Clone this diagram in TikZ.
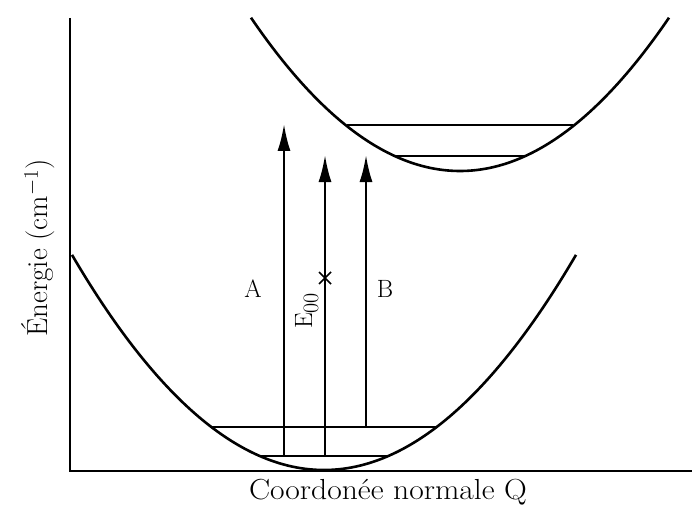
\documentclass[tikz,border=0pt]{standalone}
\usepackage{fontspec}
\setmainfont{Latin Modern Roman}
\usetikzlibrary{arrows.meta,calc}
\begin{document}
\begin{tikzpicture}[x=1pt,y=-1pt,
  curve/.style={line width=2.6pt},
  level/.style={line width=2.2pt},
  axis/.style={line width=2pt},
  trans/.style={line width=2.2pt,-{Latex[length=27pt,width=13pt]}},
  lbl/.style={font=\fontsize{25}{27}\selectfont, inner sep=0pt},
  big/.style={font=\fontsize{29}{31}\selectfont, inner sep=0pt}]
\useasboundingbox (0,0) rectangle (692,505);
% axes
\coordinate (o) at (70,471);
\coordinate (ytop) at (70,18);
\coordinate (xend) at (692,471);
\draw[axis] (ytop) -- (o) -- (xend);
% lower parabola
\draw[curve] plot[domain=72:576,samples=120] (\x,{470-0.003386*(\x-324)*(\x-324)});
% upper parabola
\draw[curve] plot[domain=251:669,samples=120] (\x,{171-0.003503*(\x-460)*(\x-460)});
% levels lower
\coordinate (l1a) at (211,427); \coordinate (l1b) at (437,427);
\coordinate (l0a) at (260,456); \coordinate (l0b) at (388,456);
\draw[level] (l1a) -- (l1b);
\draw[level] (l0a) -- (l0b);
% levels upper
\coordinate (u1a) at (347,125); \coordinate (u1b) at (573,125);
\coordinate (u0a) at (395,156); \coordinate (u0b) at (525,156);
\draw[level] (u1a) -- (u1b);
\draw[level] (u0a) -- (u0b);
% transitions
\coordinate (a0) at (284,456); \coordinate (a1) at (284,124);
\coordinate (e0) at (325,456); \coordinate (e1) at (325,155);
\coordinate (b0) at (366,427); \coordinate (b1) at (366,155);
\draw[trans] (a0) -- (a1);
\draw[trans] (e0) -- (e1);
\draw[trans] (b0) -- (b1);
% cross
\coordinate (x) at (325,278);
\draw[line width=1.5pt] ($(x)+(-6,-6)$) -- ($(x)+(6,6)$) ($(x)+(-6,6)$) -- ($(x)+(6,-6)$);
% labels
\node[lbl,anchor=base] (A) at (253,297) {A};
\node[lbl,anchor=base] (B) at (385,297) {B};
\node[lbl,rotate=90,anchor=base] (E) at (312,311) {E\raisebox{-6pt}{\fontsize{22}{23}\selectfont 00}};
\node[big,anchor=base,xscale=1.09] (xl) at (388,499) {Coordonée normale Q};
\node[big,rotate=90,anchor=base] (yl) at (47,248) {Énergie (cm$^{-1}$)};
\end{tikzpicture}
\end{document}
